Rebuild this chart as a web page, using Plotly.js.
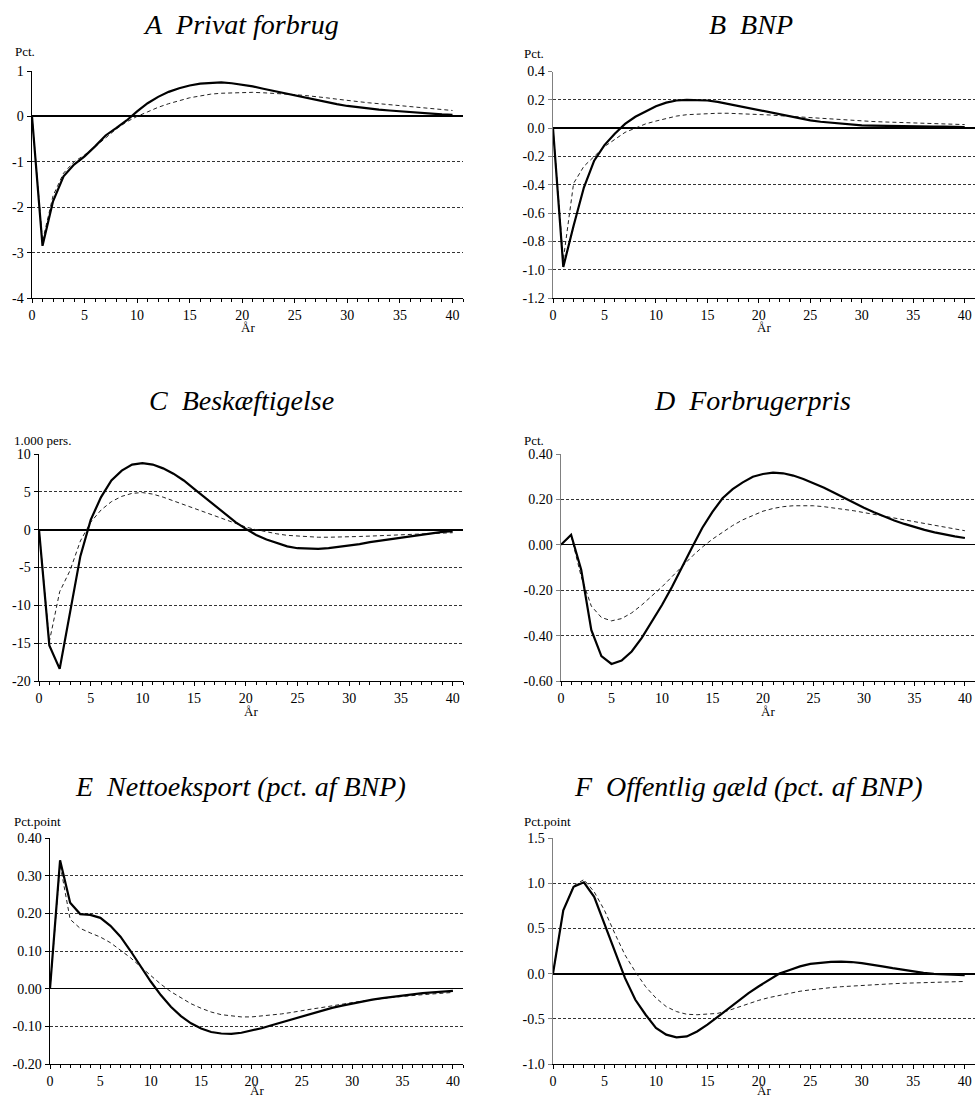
<!DOCTYPE html>
<html>
<head>
<meta charset="utf-8">
<script src="https://cdn.plot.ly/plotly-3.0.1.min.js"></script>
<style>html,body{margin:0;padding:0;background:#fff;} #chart{width:975px;height:1100px;}</style>
</head>
<body>
<div id="chart"></div>
<script>
// ---------- DATA ----------
const years = [0,1,2,3,4,5,6,7,8,9,10,11,12,13,14,15,16,17,18,19,20,21,22,23,24,25,26,27,28,29,30,31,32,33,34,35,36,37,38,39,40];

const titles = ["A\u00a0 Privat forbrug", "B\u00a0 BNP", "C\u00a0 Beskæftigelse", "D\u00a0 Forbrugerpris", "E\u00a0 Nettoeksport (pct. af BNP)", "F\u00a0 Offentlig gæld (pct. af BNP)"];
const units = ["Pct.", "Pct.", "1.000 pers.", "Pct.", "Pct.point", "Pct.point"];
const xLabel = "År";

const aSolid = [0,-2.85,-1.87,-1.32,-1.06,-0.88,-0.66,-0.42,-0.26,-0.09,0.11,0.29,0.43,0.54,0.62,0.68,0.72,0.74,0.75,0.73,0.70,0.66,0.61,0.56,0.51,0.46,0.41,0.36,0.31,0.27,0.23,0.20,0.17,0.15,0.13,0.11,0.09,0.07,0.055,0.045,0.035];
const aDash  = [0,-2.75,-1.75,-1.25,-1.0,-0.85,-0.67,-0.47,-0.28,-0.12,0.0,0.1,0.2,0.28,0.35,0.41,0.45,0.49,0.51,0.52,0.53,0.53,0.52,0.51,0.50,0.48,0.46,0.44,0.41,0.38,0.35,0.33,0.30,0.28,0.26,0.24,0.21,0.19,0.17,0.15,0.13];

const bSolid = [0,-0.98,-0.69,-0.42,-0.23,-0.12,-0.04,0.03,0.08,0.12,0.155,0.18,0.195,0.2,0.2,0.195,0.185,0.17,0.155,0.14,0.125,0.11,0.095,0.08,0.065,0.055,0.045,0.038,0.03,0.025,0.02,0.018,0.016,0.015,0.014,0.013,0.012,0.011,0.01,0.009,0.008];
const bDash  = [0,-0.93,-0.39,-0.27,-0.2,-0.13,-0.08,-0.03,0.0,0.03,0.05,0.07,0.085,0.095,0.1,0.105,0.105,0.105,0.103,0.1,0.097,0.093,0.088,0.083,0.078,0.073,0.068,0.063,0.059,0.055,0.051,0.047,0.044,0.041,0.038,0.035,0.033,0.031,0.029,0.027,0.025];

const cSolid = [0,-15.3,-18.4,-11.1,-3.5,1.3,4.3,6.5,7.8,8.6,8.8,8.6,8.1,7.4,6.5,5.4,4.3,3.2,2.1,1.0,0.1,-0.7,-1.3,-1.8,-2.2,-2.45,-2.55,-2.55,-2.45,-2.3,-2.1,-1.9,-1.65,-1.45,-1.2,-1.0,-0.8,-0.6,-0.45,-0.3,-0.2];
const cDash  = [0,-14.8,-8.2,-5.4,-1.5,1.0,2.6,3.7,4.4,4.8,4.9,4.7,4.3,3.8,3.3,2.8,2.3,1.8,1.3,0.8,0.35,0.0,-0.3,-0.55,-0.75,-0.85,-0.95,-1.0,-1.0,-1.0,-0.95,-0.9,-0.85,-0.8,-0.75,-0.7,-0.6,-0.55,-0.5,-0.45,-0.4];

const dSolid = [0,0.044,-0.11,-0.375,-0.49,-0.525,-0.51,-0.47,-0.41,-0.34,-0.265,-0.185,-0.095,-0.01,0.075,0.145,0.205,0.245,0.275,0.30,0.312,0.318,0.315,0.305,0.29,0.272,0.252,0.23,0.207,0.185,0.163,0.143,0.124,0.107,0.092,0.078,0.066,0.055,0.045,0.037,0.03];
const dDash  = [0,0.04,-0.14,-0.27,-0.32,-0.335,-0.325,-0.3,-0.265,-0.225,-0.185,-0.14,-0.095,-0.05,-0.01,0.025,0.055,0.085,0.11,0.13,0.148,0.16,0.168,0.172,0.173,0.172,0.168,0.163,0.157,0.15,0.142,0.134,0.126,0.118,0.11,0.1,0.092,0.084,0.076,0.069,0.062];

const eSolid = [0,0.341,0.228,0.198,0.196,0.188,0.167,0.138,0.10,0.058,0.019,-0.017,-0.048,-0.073,-0.092,-0.106,-0.115,-0.119,-0.12,-0.117,-0.112,-0.105,-0.097,-0.089,-0.081,-0.073,-0.065,-0.058,-0.051,-0.045,-0.039,-0.034,-0.029,-0.025,-0.021,-0.018,-0.015,-0.012,-0.01,-0.008,-0.006];
const eDash  = [0,0.33,0.184,0.16,0.148,0.137,0.122,0.103,0.082,0.058,0.034,0.012,-0.008,-0.025,-0.04,-0.052,-0.062,-0.069,-0.073,-0.075,-0.075,-0.073,-0.07,-0.067,-0.063,-0.058,-0.054,-0.05,-0.045,-0.041,-0.037,-0.033,-0.029,-0.026,-0.023,-0.02,-0.018,-0.016,-0.014,-0.012,-0.01];

const fSolid = [0,0.70,0.96,1.01,0.85,0.555,0.24,-0.05,-0.29,-0.455,-0.60,-0.675,-0.705,-0.695,-0.64,-0.565,-0.48,-0.39,-0.30,-0.215,-0.14,-0.065,0.0,0.04,0.08,0.107,0.12,0.13,0.132,0.128,0.115,0.10,0.08,0.06,0.04,0.022,0.008,-0.003,-0.01,-0.015,-0.018];
const fDash  = [0,0.70,0.97,1.04,0.905,0.70,0.445,0.205,0.02,-0.145,-0.27,-0.365,-0.42,-0.45,-0.455,-0.45,-0.44,-0.41,-0.37,-0.33,-0.295,-0.265,-0.24,-0.215,-0.195,-0.18,-0.165,-0.155,-0.145,-0.137,-0.13,-0.123,-0.117,-0.112,-0.107,-0.103,-0.099,-0.096,-0.093,-0.09,-0.087];

const yTicksA = [-4,-3,-2,-1,0,1];
const yTicksB = [-1.2,-1.0,-0.8,-0.6,-0.4,-0.2,0.0,0.2,0.4];
const yTicksC = [-20,-15,-10,-5,0,5,10];
const yTicksD = [-0.6,-0.4,-0.2,0.0,0.2,0.4];
const yTicksE = [-0.2,-0.1,0.0,0.1,0.2,0.3,0.4];
const yTicksF = [-1.0,-0.5,0.0,0.5,1.0,1.5];
const xTickVals = [0,5,10,15,20,25,30,35,40];

// ---------- LAYOUT HELPERS ----------
const W = 975, H = 1100;
const px = v => v / W;
const py = v => 1 - v / H;
const FONT = 'Liberation Serif';

const panels = [
  {s:aSolid, d:aDash, ticks:yTicksA, dec:0, box:[32,463,71,298],  axc:'#000', zw:2},
  {s:bSolid, d:bDash, ticks:yTicksB, dec:1, box:[553,975,71.5,298], axc:'#808080', zw:1.3},
  {s:cSolid, d:cDash, ticks:yTicksC, dec:0, box:[39,463,454,681], axc:'#000', zw:2},
  {s:dSolid, d:dDash, ticks:yTicksD, dec:2, box:[561,975,454,681], axc:'#808080', zw:1.3},
  {s:eSolid, d:eDash, ticks:yTicksE, dec:2, box:[50,463,838,1064], axc:'#000', zw:1.6},
  {s:fSolid, d:fDash, ticks:yTicksF, dec:1, box:[553,975,838,1064], axc:'#808080', zw:2}
];
const titlePos = [[241,25],[751,25],[241,401],[752,401],[240,786],[748,786]];
const unitPos = [[13,51],[522,53],[12,440],[522,440],[12,821],[522,821]];

const traces = [];
const layout = {
  width: W, height: H,
  margin: {l:0, r:0, t:0, b:0},
  paper_bgcolor: '#fff', plot_bgcolor: '#fff',
  showlegend: false,
  font: {family: FONT, size: 14, color: '#000'},
  annotations: []
};

panels.forEach((p, i) => {
  const n = i + 1;
  const xa = 'x' + (n === 1 ? '' : n), ya = 'y' + (n === 1 ? '' : n);
  const xk = 'xaxis' + (n === 1 ? '' : n), yk = 'yaxis' + (n === 1 ? '' : n);
  traces.push({x: years, y: p.d, xaxis: xa, yaxis: ya, mode: 'lines', type: 'scatter',
    line: {color: '#222', width: 1, dash: '4px,3px'}, hoverinfo: 'skip'});
  traces.push({x: years, y: p.s, xaxis: xa, yaxis: ya, mode: 'lines', type: 'scatter',
    line: {color: '#000', width: 2.2}, hoverinfo: 'skip'});
  const [x0, x1, y0, y1] = p.box;
  layout[xk] = {
    domain: [px(x0), px(x1)], anchor: ya, range: [0, 41],
    showgrid: false, zeroline: false,
    showline: true, linecolor: '#000', linewidth: 1,
    tickmode: 'array', tickvals: xTickVals, ticktext: xTickVals.map(String),
    ticks: 'outside', ticklen: 4, tickcolor: '#000', tickwidth: 1,
    minor: {dtick: 1, tick0: 0, ticks: 'outside', ticklen: 3, tickcolor: '#000', showgrid: false},
    tickfont: {family: FONT, size: 14, color: '#000'},
    fixedrange: true
  };
  layout[yk] = {
    domain: [py(y1), py(y0)], anchor: xa,
    range: [p.ticks[0], p.ticks[p.ticks.length - 1]],
    tickmode: 'array', tickvals: p.ticks, ticktext: p.ticks.map(v => v.toFixed(p.dec)),
    showgrid: true, gridcolor: '#333', gridwidth: 1, griddash: '3px,2px',
    zeroline: true, zerolinecolor: '#000', zerolinewidth: p.zw,
    showline: true, linecolor: p.axc, linewidth: 1.5,
    ticks: 'outside', ticklen: 4, tickcolor: p.axc,
    tickfont: {family: FONT, size: 14, color: '#000'},
    fixedrange: true
  };
  layout.annotations.push({
    xref: 'paper', yref: 'paper', x: px(titlePos[i][0]), y: py(titlePos[i][1]),
    xanchor: 'center', yanchor: 'middle', showarrow: false,
    text: '<i>' + titles[i] + '</i>', font: {family: FONT, size: 28, color: '#000'}
  });
  layout.annotations.push({
    xref: 'paper', yref: 'paper', x: px(unitPos[i][0]), y: py(unitPos[i][1]),
    xanchor: 'left', yanchor: 'middle', showarrow: false,
    text: units[i], font: {family: FONT, size: 13, color: '#000'}
  });
  layout.annotations.push({
    xref: xa, yref: 'paper', x: 20.5, y: py(Math.min(y1 + 30, 1090)),
    xanchor: 'center', yanchor: 'middle', showarrow: false, borderpad: 0,
    text: xLabel, font: {family: FONT, size: 13, color: '#000'}
  });
});

Plotly.newPlot('chart', traces, layout, {staticPlot: true, displayModeBar: false});
</script>
</body>
</html>
